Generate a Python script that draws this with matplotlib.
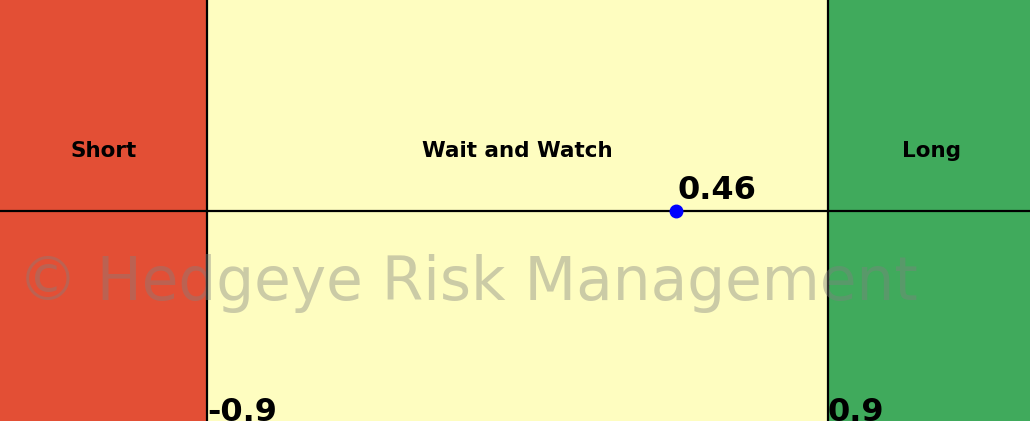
import matplotlib.pyplot as plt

# zones and thresholds
zone_names = ['Short', 'Wait and Watch', 'Long']
zone_edges = [-1.5, -0.9, 0.9, 1.5]
zone_colors = ['#e34f35', '#fefdc0', '#40aa5c']
thresholds = [-0.9, 0.9]
threshold_labels = ['-0.9', '0.9']
current_value = 0.46

fig = plt.figure(figsize=(10.3, 4.21), dpi=100)
ax = fig.add_axes([0, 0, 1, 1])
ax.set_xlim(-1.5, 1.486)
ax.set_ylim(-1, 1)
ax.axis('off')

for i, name in enumerate(zone_names):
    ax.axvspan(zone_edges[i], zone_edges[i + 1], color=zone_colors[i], lw=0)
    mid = (zone_edges[i] + zone_edges[i + 1]) / 2
    ax.text(mid, 0.285, name, ha='center', va='center', fontsize=15.5,
            fontweight='bold')

ax.axhline(0, color='black', lw=1.6)
for t, lab in zip(thresholds, threshold_labels):
    ax.axvline(t, color='black', lw=1.6)
    ax.text(t, -1.0, lab, ha='left', va='baseline', fontsize=23,
            fontweight='bold')

ax.plot([current_value], [0], 'o', color='blue', ms=9, zorder=5)
ax.text(current_value + 0.005, 0.02, f'{current_value:.2f}', ha='left',
        va='bottom', fontsize=23, fontweight='bold')

ax.text(-0.145, -0.345, '© Hedgeye Risk Management', ha='center',
        va='center', fontsize=43, color='gray', alpha=0.4)

fig.savefig('out.png', dpi=100)
